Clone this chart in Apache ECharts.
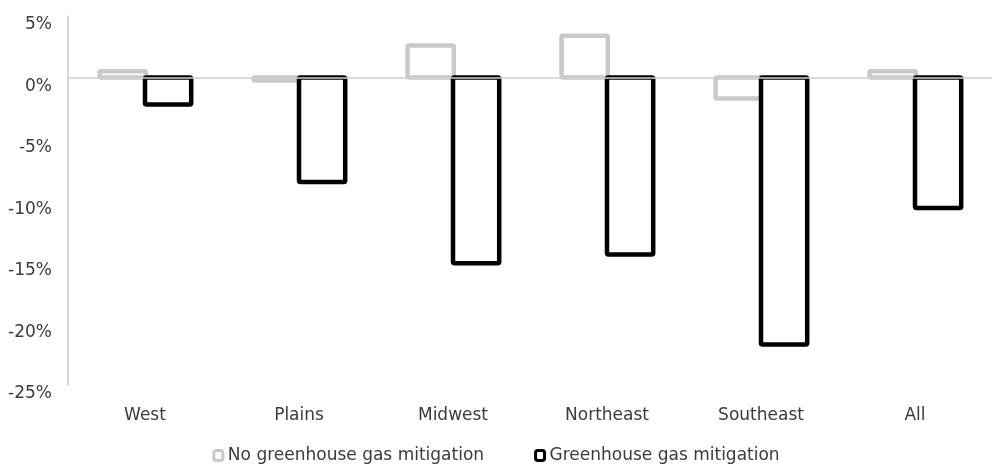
<!DOCTYPE html>
<html>
<head>
<meta charset="utf-8">
<script src="https://cdn.jsdelivr.net/npm/echarts@6/dist/echarts.min.js"></script>
<style>
  html, body { margin: 0; padding: 0; background: #fff; }
  #chart { width: 992px; height: 471px; }
</style>
</head>
<body>
<div id="chart"></div>
<script>
// Regional change (%) under two scenarios
var regions = ['West', 'Plains', 'Midwest', 'Northeast', 'Southeast', 'All'];
var noMitigation = [0.5, -0.25, 2.6, 3.4, -1.7, 0.5];
var withMitigation = [-2.2, -8.5, -15.1, -14.4, -21.7, -10.6];
var seriesNames = ['No greenhouse gas mitigation', 'Greenhouse gas mitigation'];
var yTicks = { min: -25, max: 5, step: 5 };

var FONT = '"DejaVu Sans", "Liberation Sans", sans-serif';
var TEXT = '#3b3b3b';
var GREY = '#c9c9c9';
var BLACK = '#000000';
var STROKE = 4.5;

// Outlined bar whose border is centred on the value edge.
// shift: bar centre offset as a fraction of the category band.
function outlinedBar(color, shift) {
  return function (params, api) {
    var idx = api.value(0);
    var val = api.value(1);
    var band = api.size([1, 0])[0];
    var w = band * 0.3;
    var base = api.coord([idx, 0]);
    var end = api.coord([idx, val]);
    var cx = base[0] + band * shift;
    var y0 = Math.min(base[1], end[1]);
    var h = Math.abs(base[1] - end[1]);
    return {
      type: 'rect',
      shape: { x: cx - w / 2, y: y0, width: w, height: h, r: 1.5 },
      style: { fill: '#ffffff', stroke: color, lineWidth: STROKE, lineJoin: 'round' }
    };
  };
}

function seriesData(values) {
  return values.map(function (v, i) { return [i, v]; });
}

var chart = echarts.init(document.getElementById('chart'), null, { renderer: 'canvas' });

chart.setOption({
  animation: false,
  backgroundColor: '#ffffff',
  grid: { left: 68, right: 0, top: 16, bottom: 86, containLabel: false },
  legend: {
    bottom: 2,
    left: 'center',
    itemWidth: 9,
    itemHeight: 10,
    itemGap: 50,
    textStyle: { fontFamily: FONT, fontSize: 17, color: TEXT },
    data: [
      { name: seriesNames[0], icon: 'roundRect',
        itemStyle: { color: '#ffffff', borderColor: GREY, borderWidth: 3 } },
      { name: seriesNames[1], icon: 'roundRect',
        itemStyle: { color: '#ffffff', borderColor: BLACK, borderWidth: 3 } }
    ]
  },
  xAxis: [
    {
      type: 'category',
      data: regions,
      position: 'bottom',
      axisLine: { show: false, onZero: false },
      axisTick: { show: false },
      axisLabel: { margin: 22, fontFamily: FONT, fontSize: 17, color: TEXT }
    },
    {
      // zero baseline, drawn over the bars
      type: 'category',
      data: regions,
      z: 5,
      axisLine: { show: true, onZero: true, lineStyle: { color: '#d0d0d0', width: 1.5 } },
      axisTick: { show: false },
      axisLabel: { show: false }
    }
  ],
  yAxis: {
    type: 'value',
    min: yTicks.min,
    max: yTicks.max,
    interval: yTicks.step,
    axisLine: { show: true, lineStyle: { color: '#c8c8c8', width: 1.5 } },
    axisTick: { show: false },
    splitLine: { show: false },
    axisLabel: {
      margin: 16,
      fontFamily: FONT,
      fontSize: 17,
      color: TEXT,
      verticalAlign: 'top',
      lineHeight: 18,
      formatter: function (v) { return v + '%'; }
    }
  },
  series: [
    {
      name: seriesNames[0],
      type: 'custom',
      xAxisIndex: 0,
      itemStyle: { color: GREY },
      renderItem: outlinedBar(GREY, -0.145),
      encode: { x: 0, y: 1 },
      data: seriesData(noMitigation)
    },
    {
      name: seriesNames[1],
      type: 'custom',
      xAxisIndex: 0,
      itemStyle: { color: BLACK },
      renderItem: outlinedBar(BLACK, 0.15),
      encode: { x: 0, y: 1 },
      data: seriesData(withMitigation)
    }
  ]
});
</script>
</body>
</html>
